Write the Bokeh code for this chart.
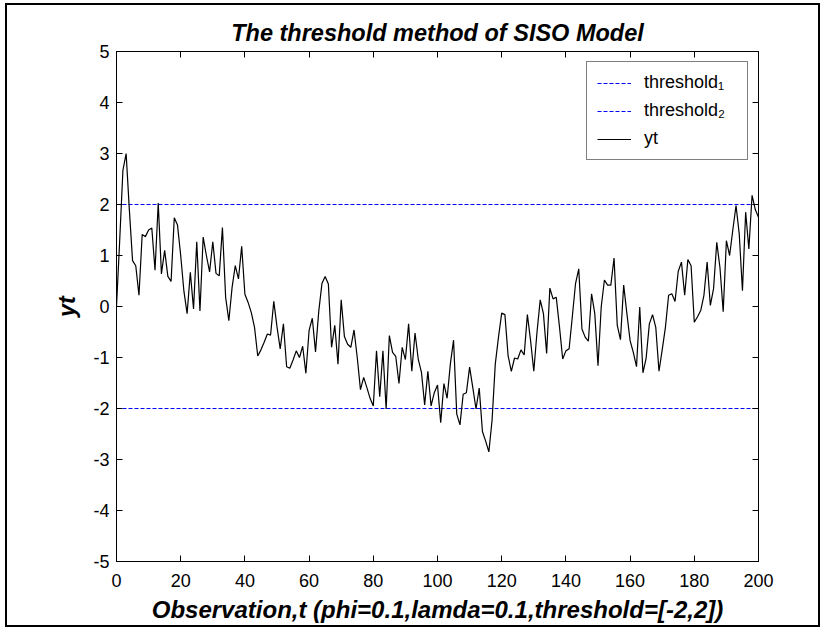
from bokeh.plotting import figure
from bokeh.models import LinearAxis, Legend, LegendItem, Range1d, FixedTicker
from bokeh.embed import file_html
from bokeh.resources import INLINE

# ---- data ----
t = list(range(0, 201))
yt = [
    0.00, 1.30, 2.67, 3.00, 1.90, 0.90, 0.80, 0.22, 1.41, 1.37,
    1.50, 1.54, 0.71, 2.03, 0.64, 1.10, 0.59, 0.49, 1.74, 1.60,
    1.00, 0.30, -0.14, 0.67, -0.05, 1.27, -0.09, 1.36, 1.00, 0.68,
    1.27, 0.65, 0.60, 1.55, 0.18, -0.28, 0.37, 0.80, 0.54, 1.18,
    0.24, 0.08, -0.12, -0.41, -0.97, -0.85, -0.70, -0.54, -0.56, 0.10,
    -0.40, -0.83, -0.34, -1.18, -1.21, -1.05, -0.87, -1.00, -0.78, -1.31,
    -0.47, -0.23, -0.89, -0.10, 0.45, 0.59, 0.44, -0.80, -0.37, -1.13,
    0.13, -0.59, -0.74, -0.80, -0.46, -1.00, -1.63, -1.39, -1.59, -1.80,
    -1.95, -0.87, -1.77, -0.87, -2.01, -0.57, -0.90, -0.98, -1.51, -0.80,
    -1.04, -0.34, -1.27, -0.52, -1.03, -1.29, -1.93, -1.27, -1.95, -1.69,
    -1.54, -2.28, -1.51, -1.80, -1.13, -0.66, -2.11, -2.32, -1.72, -1.69,
    -1.19, -1.59, -2.01, -1.60, -2.45, -2.64, -2.85, -2.23, -1.13, -0.60,
    -0.13, -0.16, -0.97, -1.27, -1.01, -1.03, -0.85, -0.95, -0.16, -0.67,
    -1.27, -0.50, 0.13, -0.14, -0.92, 0.36, 0.15, 0.18, -0.40, -1.03,
    -0.87, -0.83, -0.20, 0.45, 0.74, -0.44, -0.60, -0.68, 0.25, -0.14,
    -1.16, -0.01, 0.52, 0.42, 0.42, 0.95, -0.37, -0.65, 0.42, -0.14,
    -0.67, -0.90, -1.18, -0.01, -1.30, -1.01, -0.34, -0.16, -0.41, -1.27,
    -0.85, -0.41, 0.22, 0.25, 0.10, 0.69, 0.87, 0.22, 0.92, 0.80,
    -0.31, -0.20, -0.08, 0.22, 0.87, 0.02, 0.35, 1.26, 0.76, -0.10,
    1.29, 1.00, 1.50, 1.98, 1.42, 0.31, 1.85, 1.13, 2.18, 1.90, 1.75,
]
thresholds = [2, -2]
series_labels = ["threshold\u2081", "threshold\u2082", "yt"]
x_ticks = list(range(0, 201, 20))
y_ticks = list(range(-5, 6))
y_tick_labels = {v: str(v) for v in y_ticks}   # plain hyphen minus, as in the reference

title_text = "The threshold method of SISO Model"
x_label = "Observation,t (phi=0.1,lamda=0.1,threshold=[-2,2])"
y_label = "yt"

FONT = "Liberation Sans"

p = figure(
    width=815, height=624,
    output_backend="svg", toolbar_location=None,
    x_range=Range1d(0, 200), y_range=Range1d(-5, 5),
    min_border_left=109, min_border_right=64,
    min_border_top=46, min_border_bottom=68,
    styles={"border": "2px solid black", "margin": "3px 0px 0px 5px"},
)
p.background_fill_color = "white"
p.border_fill_color = "white"
p.outline_line_color = "black"
p.outline_line_width = 1
p.xgrid.visible = False
p.ygrid.visible = False

# title
p.title.text = title_text
p.title.align = "center"
p.title.text_font = FONT
p.title.text_font_size = "23.5px"
p.title.text_font_style = "bold italic"
p.title.text_color = "black"
p.title.standoff = 11

def style_axis(ax, show_labels=True):
    ax.axis_line_color = "black"
    ax.axis_line_width = 1
    ax.major_tick_in = 6
    ax.major_tick_out = 0
    ax.minor_tick_line_color = None
    ax.major_tick_line_color = "black"
    ax.major_label_text_font = FONT
    if show_labels:
        ax.major_label_text_font_size = "18px"
        ax.major_label_text_color = "black"
    else:
        ax.major_label_text_font_size = "1px"
        ax.major_label_text_color = None
        ax.major_label_standoff = 0

xa = p.xaxis[0]
xa.ticker = FixedTicker(ticks=x_ticks)
style_axis(xa)
xa.major_label_standoff = 12
xa.axis_label = x_label
xa.axis_label_text_font = FONT
xa.axis_label_text_font_size = "24px"
xa.axis_label_text_font_style = "bold italic"
xa.axis_label_text_color = "black"
xa.axis_label_standoff = 6

ya = p.yaxis[0]
ya.ticker = FixedTicker(ticks=y_ticks)
style_axis(ya)
ya.major_label_overrides = y_tick_labels
ya.major_label_standoff = 7
ya.axis_label = y_label
ya.axis_label_text_font = FONT
ya.axis_label_text_font_size = "23.5px"
ya.axis_label_text_font_style = "bold italic"
ya.axis_label_text_color = "black"
ya.axis_label_standoff = 10

top_ax = LinearAxis(ticker=FixedTicker(ticks=x_ticks))
style_axis(top_ax, show_labels=False)
p.add_layout(top_ax, "above")
right_ax = LinearAxis(ticker=FixedTicker(ticks=y_ticks))
style_axis(right_ax, show_labels=False)
p.add_layout(right_ax, "right")

# data renderers
renderers = []
for th in thresholds:
    r = p.line(x=[t[0], t[-1]], y=[th, th], line_color="#0000ff",
               line_width=1, line_dash="4 2")
    renderers.append(r)
r_yt = p.line(x=t, y=yt, line_color="black", line_width=1.2)
renderers.append(r_yt)

legend = Legend(
    items=[LegendItem(label=lab, renderers=[rr]) for lab, rr in zip(series_labels, renderers)],
    location="top_right",
)
legend.margin = 10
legend.padding = 10
legend.spacing = 7
legend.glyph_width = 34
legend.glyph_height = 20
legend.label_height = 20
legend.label_width = 93
legend.label_standoff = 13
legend.label_text_font = FONT
legend.label_text_font_size = "18px"
legend.label_text_color = "black"
legend.border_line_color = "black"
legend.border_line_width = 1
legend.background_fill_color = "white"
legend.background_fill_alpha = 1
p.add_layout(legend)

open("out.html", "w").write(file_html(p, INLINE))
